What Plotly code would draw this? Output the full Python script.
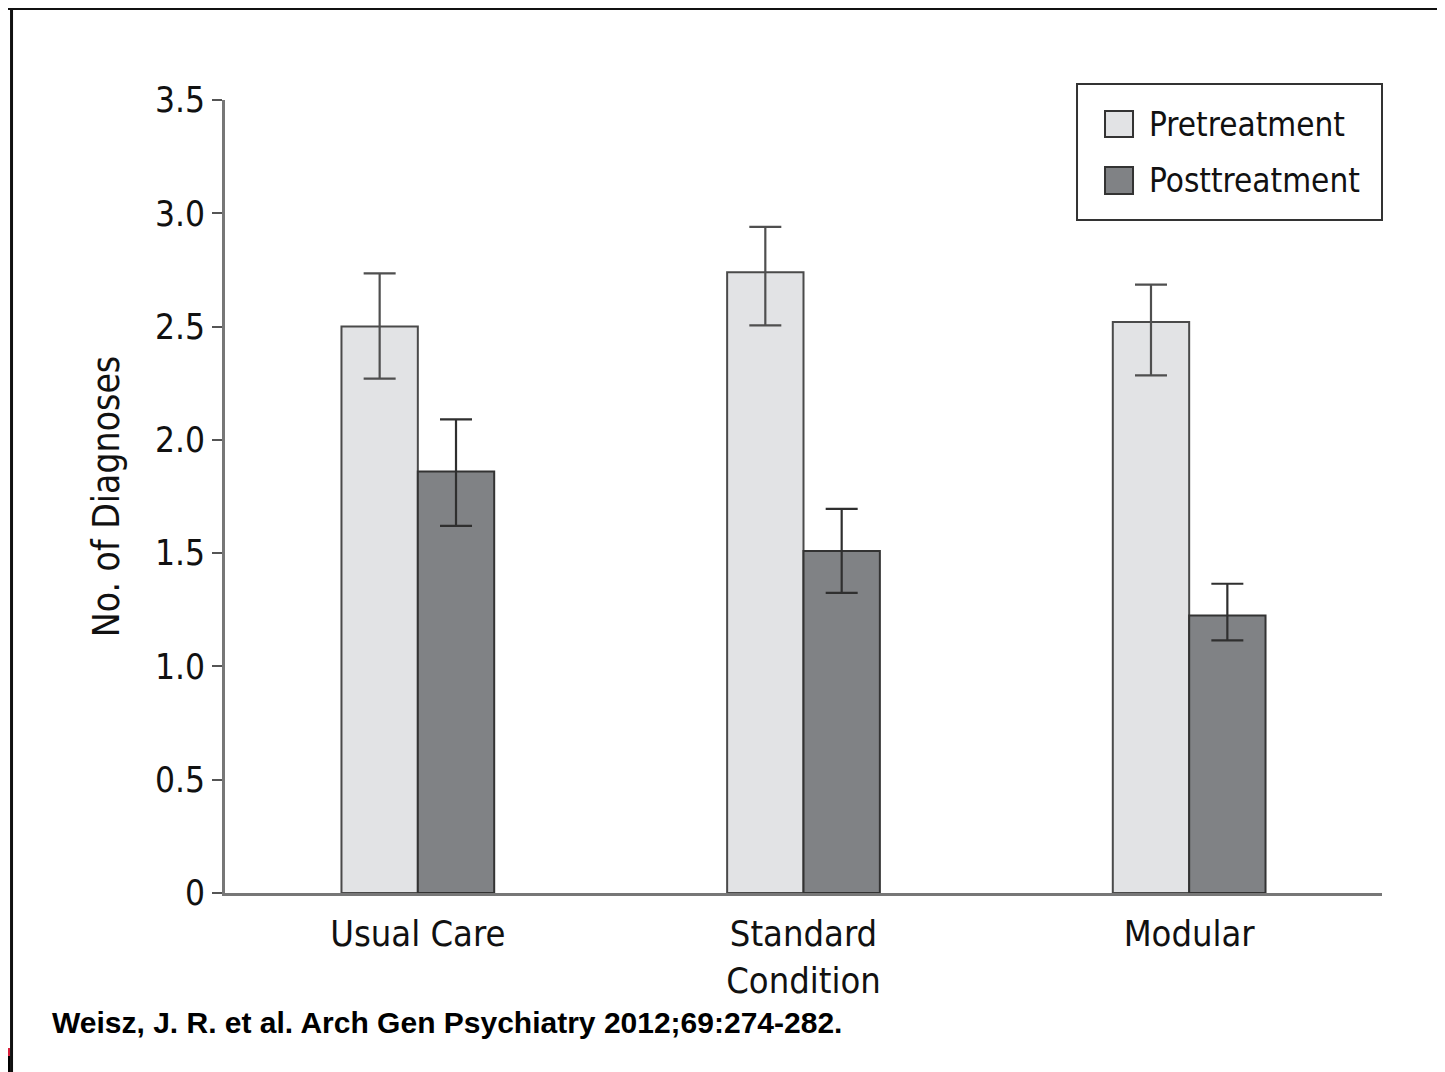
import plotly.graph_objects as go

categories = ["Usual Care", "Standard<br>Condition", "Modular"]
series_names = ["Pretreatment", "Posttreatment"]
pre_values = [2.50, 2.74, 2.52]
pre_err_plus = [0.235, 0.20, 0.165]
pre_err_minus = [0.23, 0.235, 0.235]
post_values = [1.86, 1.51, 1.225]
post_err_plus = [0.23, 0.185, 0.14]
post_err_minus = [0.24, 0.185, 0.11]
y_ticks = [0, 0.5, 1.0, 1.5, 2.0, 2.5, 3.0, 3.5]
y_tick_labels = ["0", "0.5", "1.0", "1.5", "2.0", "2.5", "3.0", "3.5"]

FONT = "DejaVu Sans Condensed, Liberation Sans Narrow, Arial Narrow, sans-serif"
PRE_COLOR = "#e2e3e5"
POST_COLOR = "#808285"

fig = go.Figure()
fig.add_trace(go.Bar(
    name=series_names[0], x=categories, y=pre_values,
    marker=dict(color=PRE_COLOR, line=dict(color="#4a4a4a", width=2)),
    error_y=dict(type="data", symmetric=False, array=pre_err_plus,
                 arrayminus=pre_err_minus, visible=True,
                 color="#4f4f4f", thickness=2.2, width=16),
))
fig.add_trace(go.Bar(
    name=series_names[1], x=categories, y=post_values,
    marker=dict(color=POST_COLOR, line=dict(color="#333333", width=2)),
    error_y=dict(type="data", symmetric=False, array=post_err_plus,
                 arrayminus=post_err_minus, visible=True,
                 color="#2f2f2f", thickness=2.2, width=16),
))

fig.update_layout(
    width=1445, height=1072,
    margin=dict(l=217, r=71, t=92, b=187),
    paper_bgcolor="white", plot_bgcolor="white",
    barmode="group", bargap=0.604, bargroupgap=0,
    font=dict(family=FONT, size=35, color="#111111"),
    showlegend=False,
    xaxis=dict(
        range=[-0.5, 2.5], showline=True, linecolor="#777777", linewidth=3,
        ticks="", showgrid=False, zeroline=False, ticklabelstandoff=7,
        tickfont=dict(family=FONT, size=36, color="#111111"),
    ),
    yaxis=dict(
        range=[0, 3.5], showline=True, linecolor="#777777", linewidth=3,
        ticks="outside", ticklen=10, tickwidth=2, tickcolor="#555555",
        tickvals=y_ticks, ticktext=y_tick_labels,
        showgrid=False, zeroline=False,
        tickfont=dict(family=FONT, size=35, color="#111111"),
        title=dict(text="No. of Diagnoses", standoff=24,
                   font=dict(family=FONT, size=37, color="#111111")),
    ),
)

# legend box (drawn to match the large swatches of the original)
fig.add_shape(type="rect", xref="paper", yref="paper", x0=0.7364, x1=1.0,
              y0=0.8487, y1=1.0202, line=dict(color="#333333", width=2),
              fillcolor="white", layer="above")
legend_rows = [(0.9861, 0.9533, 0.9685, PRE_COLOR), (0.9155, 0.8815, 0.8979, POST_COLOR)]
for name, (ytop, ybot, ymid, col) in zip(series_names, legend_rows):
    fig.add_shape(type="rect", xref="paper", yref="paper", x0=0.7606, x1=0.7848,
                  y0=ybot, y1=ytop, line=dict(color="#333333", width=2),
                  fillcolor=col, layer="above")
    fig.add_annotation(text=name, xref="paper", yref="paper", x=0.7965, y=ymid,
                       xanchor="left", yanchor="middle", showarrow=False,
                       font=dict(family=FONT, size=33, color="#111111"))

# decorative slide frame
fig.add_shape(type="line", xref="paper", yref="paper", x0=-0.2, x1=1.1,
              y0=1.1154, y1=1.1154, line=dict(color="#111111", width=3))
fig.add_shape(type="line", xref="paper", yref="paper", x0=-0.1845, x1=-0.1845,
              y0=1.1165, y1=-0.3, line=dict(color="#111111", width=3))
fig.add_shape(type="rect", xref="paper", yref="paper", x0=-0.2, x1=-0.1858,
              y0=-0.2055, y1=-0.1955, line=dict(width=0), fillcolor="#d81e3a")
fig.add_shape(type="rect", xref="paper", yref="paper", x0=-0.2, x1=-0.1858,
              y0=-0.3, y1=-0.2055, line=dict(width=0), fillcolor="#000000")

fig.add_annotation(
    text="<b>Weisz, J. R. et al. Arch Gen Psychiatry 2012;69:274-282.</b>",
    xref="paper", yref="paper", x=-0.1515, y=-0.1627, xanchor="left", yanchor="middle",
    showarrow=False, font=dict(family="Liberation Sans, Arial, sans-serif", size=30, color="#000000"),
)

fig.write_html("out.html")
